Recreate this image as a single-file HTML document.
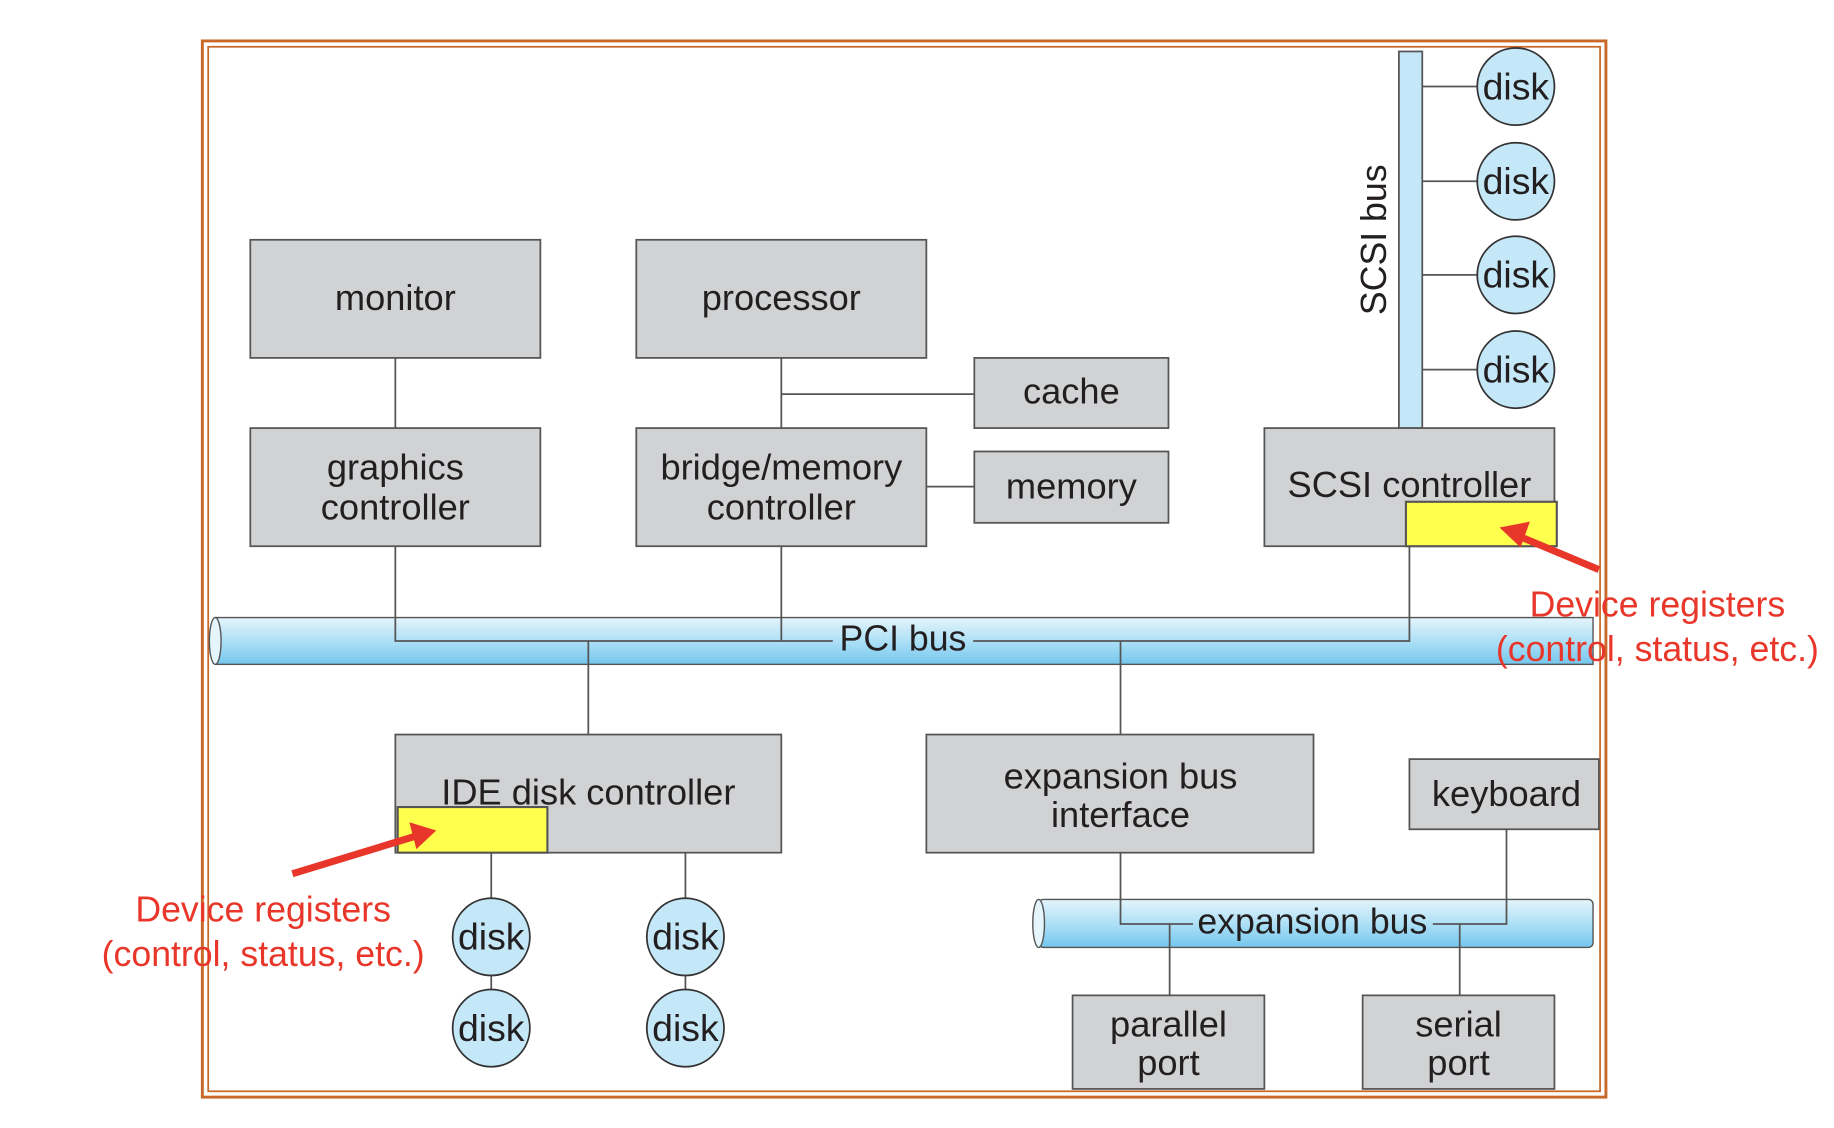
<!DOCTYPE html>
<html><head><meta charset="utf-8"><style>
html,body{margin:0;padding:0;background:#fff;}
svg{display:block;}
text{font-family:"Liberation Sans",sans-serif;fill:#231f20;}
</style></head><body>
<svg width="1834" height="1128" viewBox="0 0 1568 964.4" xmlns="http://www.w3.org/2000/svg">
<defs>
<linearGradient id="g" x1="0" y1="0" x2="0" y2="1">
<stop offset="0" stop-color="#e4f5fc"/><stop offset="0.5" stop-color="#aee0f6"/><stop offset="1" stop-color="#74c6ee"/>
</linearGradient>
</defs>
<rect x="173" y="35" width="1200" height="903" fill="none" stroke="#c8692a" stroke-width="2.5"/>
<rect x="178" y="40" width="1190" height="893" fill="none" stroke="#c8692a" stroke-width="1.5"/>

<g stroke="#555" stroke-width="1.5" fill="none">
<line x1="338" y1="306" x2="338" y2="366"/>
<line x1="668" y1="306" x2="668" y2="366"/>
<line x1="668" y1="337" x2="833" y2="337"/>
<line x1="792" y1="416" x2="833" y2="416"/>
<line x1="1216" y1="74" x2="1263" y2="74"/>
<line x1="1216" y1="155" x2="1263" y2="155"/>
<line x1="1216" y1="235" x2="1263" y2="235"/>
<line x1="1216" y1="316" x2="1263" y2="316"/>
</g>

<rect x="184" y="528" width="1178" height="40" fill="url(#g)" stroke="#555" stroke-width="1.2"/>
<ellipse cx="184" cy="548" rx="5" ry="20" fill="#e4f5fc" stroke="#555" stroke-width="1.2"/>
<rect x="888" y="769" width="474" height="41" rx="4" fill="url(#g)" stroke="#555" stroke-width="1.2"/>
<ellipse cx="888" cy="789.5" rx="5" ry="20.5" fill="#e4f5fc" stroke="#555" stroke-width="1.2"/>

<g stroke="#555" stroke-width="1.5" fill="none">
<polyline points="338,467 338,548 712,548"/>
<line x1="668" y1="467" x2="668" y2="548"/>
<polyline points="832,548 1205,548 1205,467"/>
<line x1="503" y1="548" x2="503" y2="628"/>
<line x1="958" y1="548" x2="958" y2="628"/>
<line x1="420" y1="729" x2="420" y2="850"/>
<line x1="586" y1="729" x2="586" y2="850"/>
<polyline points="958,729 958,790 1020,790"/>
<polyline points="1225,790 1288,790 1288,709"/>
<line x1="1000" y1="790" x2="1000" y2="851"/>
<line x1="1248" y1="790" x2="1248" y2="851"/>
</g>
<text x="772" y="556" font-size="30.5" text-anchor="middle">PCI bus</text>
<text x="1122" y="798" font-size="30.5" text-anchor="middle">expansion bus</text>

<rect x="1196" y="44" width="20" height="322" fill="#c5e8f8" stroke="#555" stroke-width="1.5"/>
<text transform="translate(1185,205) rotate(-90)" font-size="30.5" text-anchor="middle">SCSI bus</text>

<g fill="#d1d2d4" stroke="#555" stroke-width="1.5">
<rect x="214" y="205" width="248" height="101"/>
<rect x="544" y="205" width="248" height="101"/>
<rect x="833" y="306" width="166" height="60"/>
<rect x="214" y="366" width="248" height="101"/>
<rect x="544" y="366" width="248" height="101"/>
<rect x="833" y="386" width="166" height="61"/>
<rect x="1081" y="366" width="248" height="101"/>
<rect x="338" y="628" width="330" height="101"/>
<rect x="792" y="628" width="331" height="101"/>
<rect x="1205" y="649" width="162" height="60"/>
<rect x="917" y="851" width="164" height="80"/>
<rect x="1165" y="851" width="164" height="80"/>
</g>
<g fill="#ffff4d" stroke="#555" stroke-width="1.8">
<rect x="1202" y="429" width="129" height="38"/>
<rect x="340" y="690" width="128" height="39"/>
</g>

<g fill="#c5e8f8" stroke="#333" stroke-width="1.5">
<ellipse cx="1296" cy="74" rx="33" ry="33"/>
<ellipse cx="1296" cy="155" rx="33" ry="33"/>
<ellipse cx="1296" cy="235" rx="33" ry="33"/>
<ellipse cx="1296" cy="316" rx="33" ry="33"/>
<ellipse cx="420" cy="801" rx="33" ry="33"/>
<ellipse cx="420" cy="879" rx="33" ry="33"/>
<ellipse cx="586" cy="801" rx="33" ry="33"/>
<ellipse cx="586" cy="879" rx="33" ry="33"/>
</g>

<g font-size="32" text-anchor="middle">
<text x="1296" y="85">disk</text>
<text x="1296" y="166">disk</text>
<text x="1296" y="246">disk</text>
<text x="1296" y="327">disk</text>
<text x="420" y="812">disk</text>
<text x="420" y="890">disk</text>
<text x="586" y="812">disk</text>
<text x="586" y="890">disk</text>
</g>
<g font-size="31" text-anchor="middle">
<text x="338" y="265">monitor</text>
<text x="668" y="265">processor</text>
<text x="916" y="345">cache</text>
<text x="338" y="410">graphics</text>
<text x="338" y="444">controller</text>
<text x="668" y="410">bridge/memory</text>
<text x="668" y="444">controller</text>
<text x="916" y="426">memory</text>
<text x="1205" y="425">SCSI controller</text>
<text x="503" y="688">IDE disk controller</text>
<text x="958" y="674">expansion bus</text>
<text x="958" y="707">interface</text>
<text x="1288" y="689">keyboard</text>
<text x="999" y="886">parallel</text>
<text x="999" y="919">port</text>
<text x="1247" y="886">serial</text>
<text x="1247" y="919">port</text>
</g>

<g stroke="#e8372a" stroke-width="6" fill="#e8372a">
<line x1="1367" y1="487" x2="1300" y2="459"/>
<line x1="250" y1="747" x2="355" y2="715"/>
</g>
<polygon points="1282,451 1308,446 1300,468" fill="#e8372a"/>
<polygon points="373,710 350,703 356,726" fill="#e8372a"/>

<g font-size="30.5" text-anchor="middle">
<text x="1417" y="527" style="fill:#e8372a">Device registers</text>
<text x="1417" y="565" style="fill:#e8372a">(control, status, etc.)</text>
<text x="225" y="788" style="fill:#e8372a">Device registers</text>
<text x="225" y="826" style="fill:#e8372a">(control, status, etc.)</text>
</g>
</svg>
</body></html>
